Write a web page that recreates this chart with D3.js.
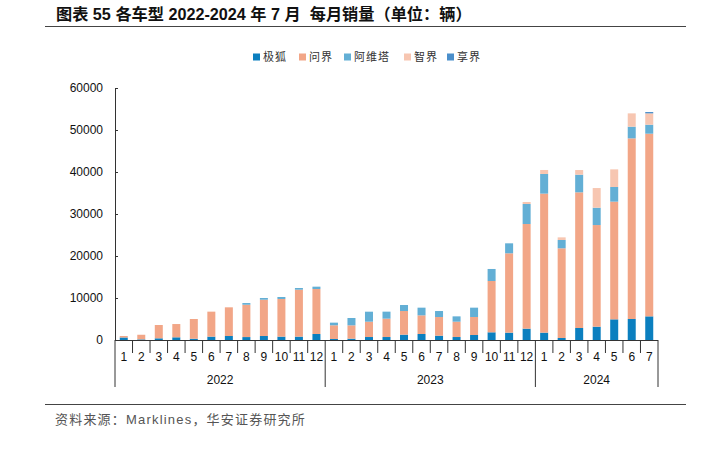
<!DOCTYPE html>
<html>
<head>
<meta charset="utf-8">
<script src="https://cdn.jsdelivr.net/npm/d3@7"></script>
<style>
  body { margin: 0; background: #fff; }
  svg { display: block; }
</style>
</head>
<body>
<svg id="chart" width="702" height="450"></svg>
<script>
// months 2022-01 .. 2024-07
const years = ["2022", "2023", "2024"];
const monthsPerYear = [12, 12, 7];
const months = [];
years.forEach((y, i) => {
    for (let m = 1; m <= monthsPerYear[i]; m++) months.push(y + "-" + m);
});

const seriesNames = ["极狐", "问界", "阿维塔", "智界", "享界"];
const jihu = [600, 150, 400, 640, 300, 800, 950, 700, 950, 800, 800, 1430,
    240, 320, 710, 710, 1270, 1430, 1030, 710, 1190, 1830, 1750, 2700,
    1750, 480, 2860, 3170, 4920, 5000, 5630];
const wenjie = [350, 1100, 3170, 3160, 4700, 5950, 6830, 7700, 8650, 8970, 11180, 10710,
    3260, 3170, 3650, 4370, 5630, 4440, 4440, 3650, 4290, 12220, 18890, 24920,
    33100, 21350, 32300, 24200, 28020, 43010, 43490];
const avatr = [0, 0, 0, 0, 0, 0, 0, 400, 400, 470, 400, 560,
    630, 1750, 2380, 1670, 1430, 1830, 1430, 1270, 2220, 2860, 2380, 4760,
    4680, 1980, 4200, 4130, 3490, 2780, 2140];
const zhijie = [0, 0, 0, 0, 0, 0, 0, 0, 0, 0, 0, 0,
    0, 0, 0, 0, 0, 0, 0, 0, 0, 0, 0, 480,
    950, 630, 1110, 4680, 4200, 3170, 2700];
const xiangjie = [0, 0, 0, 0, 0, 0, 0, 0, 0, 0, 0, 0,
    0, 0, 0, 0, 0, 0, 0, 0, 0, 0, 0, 0,
    0, 0, 0, 0, 0, 0, 320];
const yTicks = [0, 10000, 20000, 30000, 40000, 50000, 60000];

const colors = ["#0b7fbf", "#f2a687", "#63afd5", "#f7c6b1", "#4b8fcb"];

const data = months.map((m, i) => ({
    month: m,
    "极狐": jihu[i], "问界": wenjie[i], "阿维塔": avatr[i], "智界": zhijie[i], "享界": xiangjie[i]
}));

const svg = d3.select("#chart");
const plotLeft = 115, plotRight = 658, plotTop = 88, plotBottom = 340;

// title
svg.append("text")
    .attr("x", 56).attr("y", 20)
    .style("font-family", "'Liberation Sans', 'Noto Sans CJK SC', sans-serif")
    .style("font-weight", "bold")
    .style("font-size", "16.2px")
    .style("white-space", "pre")
    .attr("fill", "#111")
    .text("图表 55 各车型 2022-2024 年 7 月  每月销量（单位：辆）");
svg.append("line")
    .attr("x1", 45).attr("x2", 686).attr("y1", 26.5).attr("y2", 26.5)
    .attr("stroke", "#444").attr("stroke-width", 1.2);

const xScale = d3.scaleBand().domain(months).range([plotLeft, plotRight]).padding(0);
const yScale = d3.scaleLinear().domain([0, 60000]).range([plotBottom, plotTop]);
const barW = 8;

const stack = d3.stack().keys(seriesNames);
const stacked = stack(data);

svg.append("g").selectAll("g")
    .data(stacked)
    .join("g")
    .attr("fill", (d, i) => colors[i])
    .selectAll("rect")
    .data(d => d)
    .join("rect")
    .attr("x", d => xScale(d.data.month) + xScale.bandwidth() / 2 - barW / 2)
    .attr("y", d => yScale(d[1]))
    .attr("width", barW)
    .attr("height", d => yScale(d[0]) - yScale(d[1]));

// y axis
const yAxis = svg.append("g")
    .attr("transform", `translate(${plotLeft},0)`)
    .call(d3.axisRight(yScale).tickValues(yTicks).tickSize(3).tickFormat(""));
yAxis.select(".domain").attr("stroke", "#333");
yAxis.selectAll(".tick line").attr("stroke", "#333");
svg.append("g").selectAll("text")
    .data(yTicks)
    .join("text")
    .attr("x", 103).attr("y", d => yScale(d))
    .attr("dy", "0.35em")
    .attr("text-anchor", "end")
    .style("font-family", "'Liberation Sans', Arial, sans-serif")
    .style("font-size", "12px")
    .attr("fill", "#111")
    .text(d => d);

// x axis
svg.append("line")
    .attr("x1", plotLeft).attr("x2", plotRight).attr("y1", plotBottom + 0.5).attr("y2", plotBottom + 0.5)
    .attr("stroke", "#333").attr("stroke-width", 1.2);

const bounds = months.map(m => xScale(m)).concat([plotRight]);
const yearBreaks = [0, 12, 24, 31];
svg.append("g").selectAll("line")
    .data(bounds)
    .join("line")
    .attr("x1", d => d).attr("x2", d => d)
    .attr("y1", plotBottom)
    .attr("y2", (d, i) => yearBreaks.includes(i) ? 387 : 353)
    .attr("stroke", "#333").attr("stroke-width", 1);

svg.append("g").selectAll("text")
    .data(months)
    .join("text")
    .attr("x", d => xScale(d) + xScale.bandwidth() / 2)
    .attr("y", 361)
    .attr("text-anchor", "middle")
    .style("font-family", "'Liberation Sans', Arial, sans-serif")
    .style("font-size", "12px")
    .attr("fill", "#111")
    .text(d => d.split("-")[1]);

svg.append("g").selectAll("text")
    .data(years)
    .join("text")
    .attr("x", (d, i) => (bounds[yearBreaks[i]] + bounds[yearBreaks[i + 1]]) / 2)
    .attr("y", 384)
    .attr("text-anchor", "middle")
    .style("font-family", "'Liberation Sans', Arial, sans-serif")
    .style("font-size", "12px")
    .attr("fill", "#111")
    .text(d => d);

// legend
const legendX = [253, 299, 344, 404, 447];
const legend = svg.append("g").selectAll("g")
    .data(seriesNames)
    .join("g")
    .attr("transform", (d, i) => `translate(${legendX[i]},57)`);
legend.append("rect")
    .attr("x", 0).attr("y", -3.5).attr("width", 7).attr("height", 7)
    .attr("fill", (d, i) => colors[i]);
legend.append("text")
    .attr("x", 10).attr("y", 0).attr("dy", "0.36em")
    .style("font-family", "'Noto Sans CJK SC', sans-serif")
    .style("font-size", "11px")
    .style("letter-spacing", "1px")
    .attr("fill", "#333")
    .text(d => d);

// footer
svg.append("line")
    .attr("x1", 45).attr("x2", 686).attr("y1", 404.5).attr("y2", 404.5)
    .attr("stroke", "#444").attr("stroke-width", 1);
svg.append("text")
    .attr("x", 55).attr("y", 424)
    .style("font-family", "'Liberation Sans', 'Noto Sans CJK SC', sans-serif")
    .style("font-size", "13px")
    .style("letter-spacing", "1.2px")
    .attr("fill", "#555")
    .text("资料来源：Marklines，华安证券研究所");
</script>
</body>
</html>
